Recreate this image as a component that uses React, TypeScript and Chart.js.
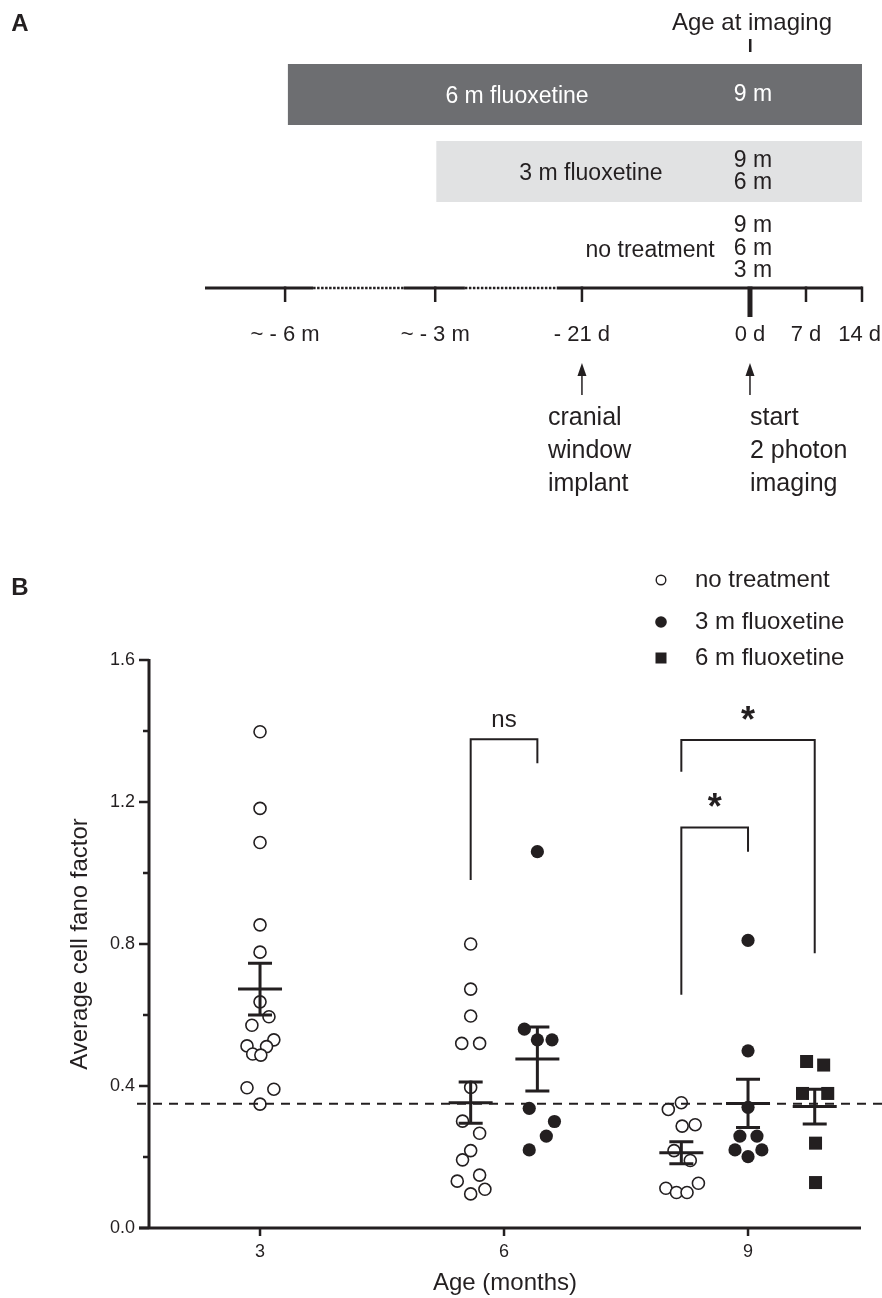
import React, { useEffect, useRef } from 'react';
import { Chart, registerables } from 'chart.js';

Chart.register(...registerables);

const FONT = '"Liberation Sans", Arial, Helvetica, sans-serif';
const INK = '#231f20';
const DARK_BAR = '#6d6e71';
const LIGHT_BAR = '#e1e2e3';

// ---------------- Panel A : experimental timeline (schematic, units = weeks) ----------------
const timelineLabels = ['~ - 6 m', '~ - 3 m', '- 21 d', '0 d', '7 d', '14 d'];
const timelineWeeks = [-8.3, -5.62, -3, 0, 1, 2];
const timelineBreaks = [[-7.8, -6.18], [-5.09, -3.45]];
const treatmentGroups = ['6 m fluoxetine', '3 m fluoxetine', 'no treatment'];
const treatmentStart = [-8.25, -5.6, null];
const treatmentEnd = [2, 2, null];
const treatmentColors = [DARK_BAR, LIGHT_BAR, 'rgba(0,0,0,0)'];
const imagingAges = [['9 m'], ['9 m', '6 m'], ['9 m', '6 m', '3 m']];
const arrowWeeks = [-3, 0];
const arrowNotes = [['cranial', 'window', 'implant'], ['start', '2 photon', 'imaging']];

// ---------------- Panel B : average cell fano factor ----------------
const ageTicks = [3, 6, 9];
const seriesNames = ['no treatment', '3 m fluoxetine', '6 m fluoxetine'];

const noTreatmentAge = [
  3, 3, 3, 3, 3, 3, 3.11, 2.9, 3.17, 2.84, 3.08, 2.91, 3.01, 2.84, 3.17, 3.0,
  5.59, 5.59, 5.59, 5.48, 5.7, 5.59, 5.49, 5.7, 5.59, 5.49, 5.7, 5.425, 5.59, 5.765,
  8.18, 8.02, 8.19, 8.35, 8.09, 8.29, 7.99, 8.12, 8.25, 8.39,
];
const noTreatmentFano = [
  1.398, 1.182, 1.086, 0.854, 0.777, 0.637, 0.595, 0.571, 0.53, 0.513, 0.511, 0.49, 0.487, 0.395, 0.391, 0.349,
  0.8, 0.673, 0.597, 0.52, 0.52, 0.396, 0.301, 0.267, 0.218, 0.192, 0.149, 0.132, 0.096, 0.109,
  0.353, 0.334, 0.287, 0.291, 0.218, 0.19, 0.112, 0.1, 0.1, 0.126,
];
const fluox3Age = [6.41, 6.25, 6.41, 6.59, 6.31, 6.62, 6.52, 6.31, 9.0, 9.0, 9.0, 8.9, 9.11, 8.84, 9.17, 9.0];
const fluox3Fano = [1.06, 0.56, 0.53, 0.53, 0.337, 0.3, 0.259, 0.22, 0.81, 0.499, 0.34, 0.259, 0.259, 0.22, 0.22, 0.201];
const fluox6Age = [9.72, 9.93, 9.67, 9.98, 9.83, 9.83];
const fluox6Fano = [0.469, 0.459, 0.379, 0.379, 0.239, 0.128];

const summaryAge = [3, 5.59, 6.41, 8.18, 9.0, 9.82];
const summaryMean = [0.673, 0.353, 0.476, 0.212, 0.351, 0.342];
const summarySem = [0.073, 0.058, 0.09, 0.031, 0.068, 0.049];

const referenceLevel = 0.35;

const bracketLabels = ['ns', '*', '*'];
const bracketFrom = [5.59, 8.18, 8.18];
const bracketTo = [6.41, 9.82, 9.0];
const bracketTop = [1.377, 1.375, 1.128];
const bracketLeftEnd = [0.98, 1.285, 0.657];
const bracketRightEnd = [1.309, 0.774, 1.06];
const bracketLabelY = [1.431, 1.454, 1.208];

// ---------------- layout ----------------
const PAGE_W = 882;
const A_H = 500;
const B_TOP = 540;
const B_H = 758;

function drawText(ctx: CanvasRenderingContext2D, str: string, x: number, y: number, size: number, opts: any = {}) {
  ctx.save();
  ctx.font = `${opts.bold ? 'bold ' : ''}${size}px ${FONT}`;
  ctx.fillStyle = opts.color || INK;
  ctx.textAlign = opts.align || 'center';
  ctx.textBaseline = opts.baseline || 'middle';
  ctx.fillText(str, x, y);
  ctx.restore();
}

const timelinePlugin = {
  id: 'timelinePlugin',
  afterDatasetsDraw(chart: any) {
    const { ctx, chartArea, scales } = chart;
    const xs = scales.x;
    const ys = scales.y;
    const px = (w: number) => xs.getPixelForValue(w);
    const lineY = chartArea.bottom + 1;

    drawText(ctx, 'A', 20, 24, 24, { bold: true });

    const labelWeek = [-4.16, -2.84, -0.63];
    const labelAlign = ['center', 'center', 'right'];
    treatmentGroups.forEach((g, i) => {
      const cy = ys.getPixelForValue(i);
      const color = i === 0 ? '#ffffff' : INK;
      drawText(ctx, g, px(labelWeek[i]), cy + 2, 23, { color, align: labelAlign[i] });
      const ages = imagingAges[i];
      ages.forEach((a, j) => {
        drawText(ctx, a, px(0) + 3, cy + (j - (ages.length - 1) / 2) * 22.5, 23, { color });
      });
    });

    drawText(ctx, 'Age at imaging', px(0) + 2, 23, 24);
    ctx.save();
    ctx.fillStyle = INK;
    ctx.fillRect(px(0) - 1, 39, 2.5, 13);

    // timeline with broken (dotted) parts
    const pieces: number[][] = [];
    let start = xs.min;
    timelineBreaks.forEach((b) => {
      pieces.push([start, b[0]]);
      start = b[1];
    });
    pieces.push([start, xs.max]);
    ctx.strokeStyle = INK;
    ctx.lineWidth = 3;
    ctx.beginPath();
    pieces.forEach((p) => {
      ctx.moveTo(px(p[0]), lineY);
      ctx.lineTo(px(p[1]), lineY);
    });
    ctx.stroke();
    ctx.lineWidth = 2.5;
    ctx.setLineDash([2.5, 1.5]);
    ctx.beginPath();
    timelineBreaks.forEach((b) => {
      ctx.moveTo(px(b[0]), lineY);
      ctx.lineTo(px(b[1]), lineY);
    });
    ctx.stroke();
    ctx.setLineDash([]);

    timelineWeeks.forEach((w, i) => {
      const x = px(w);
      const major = w === 0;
      ctx.lineWidth = major ? 5 : 2.5;
      ctx.beginPath();
      ctx.moveTo(x, lineY - 1.5);
      ctx.lineTo(x, lineY + (major ? 29 : 14));
      ctx.stroke();
      ctx.font = `22px ${FONT}`;
      const half = ctx.measureText(timelineLabels[i]).width / 2;
      const cx = Math.min(x, chart.width - half - 1);
      drawText(ctx, timelineLabels[i], cx, 335, 22);
    });

    const noteOffset = [-34, 0];
    arrowWeeks.forEach((w, i) => {
      const x = px(w);
      ctx.lineWidth = 1.5;
      ctx.beginPath();
      ctx.moveTo(x, 395);
      ctx.lineTo(x, 372);
      ctx.stroke();
      ctx.beginPath();
      ctx.moveTo(x, 363);
      ctx.lineTo(x - 4.5, 376);
      ctx.lineTo(x + 4.5, 376);
      ctx.closePath();
      ctx.fill();
      arrowNotes[i].forEach((t, j) => {
        drawText(ctx, t, x + noteOffset[i], 418 + j * 33, 25, { align: 'left' });
      });
    });
    ctx.restore();
  },
};

const panelBPlugin = {
  id: 'panelBPlugin',
  afterDatasetsDraw(chart: any) {
    const { ctx, chartArea: ca, scales } = chart;
    const xs = scales.x;
    const ys = scales.y;
    ctx.save();
    ctx.strokeStyle = INK;
    ctx.fillStyle = INK;

    // axes
    ctx.lineWidth = 3;
    ctx.beginPath();
    ctx.moveTo(ca.left, ca.top - 1);
    ctx.lineTo(ca.left, ca.bottom + 1.5);
    ctx.moveTo(ca.left - 10, ca.bottom);
    ctx.lineTo(ca.right, ca.bottom);
    ctx.stroke();

    ctx.lineWidth = 2.5;
    ctx.beginPath();
    ys.ticks.forEach((t: any) => {
      const py = ys.getPixelForValue(t.value);
      const major = Math.round(t.value * 10) % 4 === 0;
      ctx.moveTo(ca.left - (major ? 10 : 6), py);
      ctx.lineTo(ca.left, py);
    });
    ageTicks.forEach((v) => {
      const p = xs.getPixelForValue(v);
      ctx.moveTo(p, ca.bottom);
      ctx.lineTo(p, ca.bottom + 8);
    });
    ctx.stroke();

    // mean +/- SEM
    ctx.lineWidth = 3;
    summaryAge.forEach((a, i) => {
      const cx = xs.getPixelForValue(a);
      const m = ys.getPixelForValue(summaryMean[i]);
      const hi = ys.getPixelForValue(summaryMean[i] + summarySem[i]);
      const lo = ys.getPixelForValue(summaryMean[i] - summarySem[i]);
      ctx.beginPath();
      ctx.moveTo(cx - 22, m);
      ctx.lineTo(cx + 22, m);
      ctx.moveTo(cx, hi);
      ctx.lineTo(cx, lo);
      ctx.moveTo(cx - 12, hi);
      ctx.lineTo(cx + 12, hi);
      ctx.moveTo(cx - 12, lo);
      ctx.lineTo(cx + 12, lo);
      ctx.stroke();
    });

    // reference level
    const ry = ys.getPixelForValue(referenceLevel);
    ctx.lineWidth = 2;
    ctx.setLineDash([9, 7]);
    ctx.beginPath();
    ctx.moveTo(ca.left - 12, ry);
    ctx.lineTo(chart.width, ry);
    ctx.stroke();
    ctx.setLineDash([]);

    // significance brackets
    ctx.lineWidth = 2;
    bracketLabels.forEach((lab, i) => {
      const x1 = xs.getPixelForValue(bracketFrom[i]);
      const x2 = xs.getPixelForValue(bracketTo[i]);
      const top = ys.getPixelForValue(bracketTop[i]);
      ctx.beginPath();
      ctx.moveTo(x1, ys.getPixelForValue(bracketLeftEnd[i]));
      ctx.lineTo(x1, top);
      ctx.lineTo(x2, top);
      ctx.lineTo(x2, ys.getPixelForValue(bracketRightEnd[i]));
      ctx.stroke();
      const cx = (x1 + x2) / 2;
      const cy = ys.getPixelForValue(bracketLabelY[i]);
      if (lab === '*') {
        drawText(ctx, lab, cx, cy + 20, 36, { bold: true, baseline: 'alphabetic' });
      } else {
        drawText(ctx, lab, cx, cy, 24);
      }
    });

    // legend
    const lx = 661;
    const rows = [40, 82, 118];
    ctx.lineWidth = 1.4;
    ctx.beginPath();
    ctx.arc(lx, rows[0], 4.8, 0, Math.PI * 2);
    ctx.fillStyle = '#fff';
    ctx.fill();
    ctx.stroke();
    ctx.fillStyle = INK;
    ctx.beginPath();
    ctx.arc(lx, rows[1], 5.8, 0, Math.PI * 2);
    ctx.fill();
    ctx.fillRect(lx - 5.5, rows[2] - 5.5, 11, 11);
    seriesNames.forEach((n, i) => drawText(ctx, n, 695, rows[i], 24, { align: 'left' }));

    drawText(ctx, 'B', 20, 48, 24, { bold: true });
    ctx.restore();
  },
};

export default function App() {
  const refA = useRef<HTMLCanvasElement>(null);
  const refB = useRef<HTMLCanvasElement>(null);

  useEffect(() => {
    const chartA = new Chart(refA.current as HTMLCanvasElement, {
      type: 'bar',
      data: {
        labels: treatmentGroups,
        datasets: [
          {
            data: treatmentStart.map((s, i) => (s === null ? null : [s, treatmentEnd[i] as number])) as any,
            backgroundColor: treatmentColors,
            borderWidth: 0,
            barPercentage: 0.79,
            categoryPercentage: 1,
          },
        ],
      },
      options: {
        indexAxis: 'y',
        responsive: false,
        animation: false,
        events: [],
        layout: { padding: { left: 205, right: 20, top: 56, bottom: 213 } },
        plugins: { legend: { display: false }, tooltip: { enabled: false } },
        scales: {
          x: { type: 'linear', min: -9.73, max: 2, display: false },
          y: { type: 'category', display: false },
        },
      },
      plugins: [timelinePlugin],
    } as any);

    const pts = (xs: number[], ys: number[]) => xs.map((x, i) => ({ x, y: ys[i] }));
    const chartB = new Chart(refB.current as HTMLCanvasElement, {
      type: 'scatter',
      data: {
        datasets: [
          {
            label: seriesNames[0],
            data: pts(noTreatmentAge, noTreatmentFano),
            pointStyle: 'circle',
            pointRadius: 6,
            backgroundColor: '#ffffff',
            borderColor: INK,
            borderWidth: 1.6,
          },
          {
            label: seriesNames[1],
            data: pts(fluox3Age, fluox3Fano),
            pointStyle: 'circle',
            pointRadius: 6.6,
            backgroundColor: INK,
            borderColor: INK,
            borderWidth: 0,
          },
          {
            label: seriesNames[2],
            data: pts(fluox6Age, fluox6Fano),
            pointStyle: 'rect',
            pointRadius: 9.2,
            backgroundColor: INK,
            borderColor: INK,
            borderWidth: 0,
          },
        ],
      },
      options: {
        responsive: false,
        animation: false,
        events: [],
        layout: { padding: { left: 0, top: 120, right: 21, bottom: 0 } },
        plugins: { legend: { display: false }, tooltip: { enabled: false } },
        scales: {
          x: {
            type: 'linear',
            min: 1.635,
            max: 10.389,
            afterBuildTicks: (s: any) => {
              s.ticks = ageTicks.map((v) => ({ value: v }));
            },
            afterFit: (s: any) => {
              s.height = 70;
            },
            grid: { display: false, drawTicks: false },
            border: { display: false },
            ticks: {
              color: INK,
              padding: 13,
              font: { size: 18, family: FONT },
              autoSkip: false,
              maxRotation: 0,
              callback: (v: any) => String(v),
            },
            title: {
              display: true,
              text: 'Age (months)',
              color: INK,
              font: { size: 24, family: FONT },
              padding: { top: 0, bottom: 0 },
            },
          },
          y: {
            type: 'linear',
            min: 0,
            max: 1.6,
            afterFit: (s: any) => {
              s.width = 149;
            },
            grid: { display: false, drawTicks: false },
            border: { display: false },
            ticks: {
              stepSize: 0.2,
              color: INK,
              padding: 14,
              font: { size: 18, family: FONT },
              autoSkip: false,
              callback: (v: any) => (Math.round(Number(v) * 10) % 4 === 0 ? Number(v).toFixed(1) : ''),
            },
            title: {
              display: true,
              text: 'Average cell fano factor',
              color: INK,
              font: { size: 24, family: FONT },
              padding: { top: 66, bottom: 0 },
            },
          },
        },
      },
      plugins: [panelBPlugin],
    } as any);

    return () => {
      chartA.destroy();
      chartB.destroy();
    };
  }, []);

  return (
    <div style={{ position: 'absolute', left: 0, top: 0, width: PAGE_W, height: 1298, background: '#fff' }}>
      <canvas ref={refA} width={PAGE_W} height={A_H} style={{ position: 'absolute', left: 0, top: 0 }} />
      <canvas ref={refB} width={PAGE_W} height={B_H} style={{ position: 'absolute', left: 0, top: B_TOP }} />
    </div>
  );
}
